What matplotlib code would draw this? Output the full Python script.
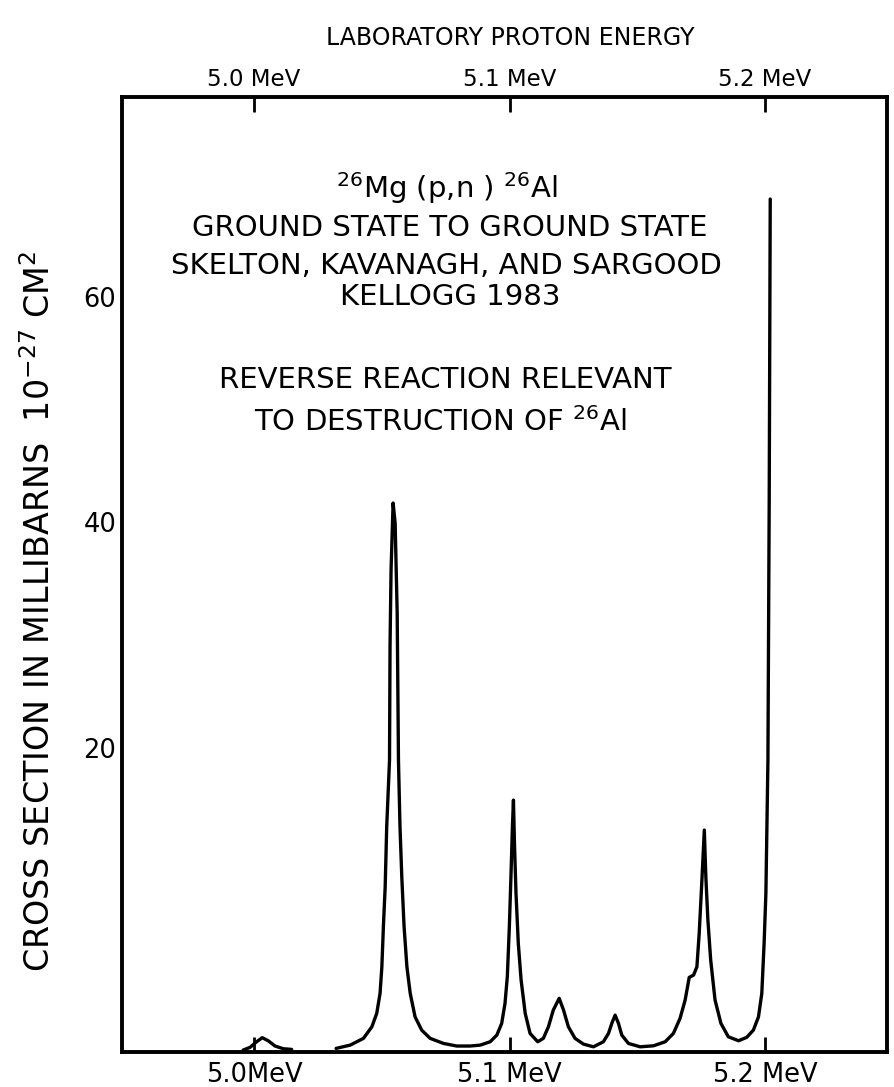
import matplotlib
matplotlib.use("Agg")
import matplotlib.pyplot as plt

# energies in MeV, cross sections in mb (read against the 20/40/60 labels)
bump_e = [4.9957, 4.9984, 5.0010, 5.0032, 5.0055, 5.0082, 5.0114, 5.0147]
bump_xs = [-6.83, -6.59, -6.09, -5.73, -6.00, -6.47, -6.71, -6.77]

curve_e = [5.0321, 5.0376, 5.0428, 5.0461, 5.0480, 5.0493, 5.0500, 5.0506,
           5.0513, 5.0519, 5.0530, 5.0532, 5.0536, 5.0544, 5.0552, 5.0560,
           5.0565, 5.0571, 5.0578, 5.0587, 5.0598, 5.0611, 5.0630, 5.0656,
           5.0689, 5.0741, 5.0793, 5.0845, 5.0885, 5.0924, 5.0950, 5.0969,
           5.0982, 5.0991, 5.0999, 5.1006, 5.1011, 5.1015, 5.1019, 5.1025,
           5.1034, 5.1045, 5.1061, 5.1080, 5.1110, 5.1132, 5.1152, 5.1171,
           5.1194, 5.1211, 5.1230, 5.1256, 5.1289, 5.1328, 5.1341, 5.1367,
           5.1387, 5.1400, 5.1413, 5.1426, 5.1439, 5.1465, 5.1511, 5.1563,
           5.1609, 5.1641, 5.1667, 5.1687, 5.1703, 5.1720, 5.1733, 5.1742,
           5.1752, 5.1762, 5.1768, 5.1776, 5.1787, 5.1804, 5.1827, 5.1856,
           5.1896, 5.1928, 5.1954, 5.1974, 5.1987, 5.1996, 5.2003, 5.2007,
           5.2011, 5.2016, 5.2020]
curve_xs = [-6.68, -6.39, -5.79, -4.76, -3.57, -1.80, 0.56, 4.11,
            7.65, 12.98, 18.89, 28.91, 35.74, 41.69, 39.91, 31.93,
            18.89, 12.98, 8.54, 4.11, 0.56, -1.80, -3.88, -5.06,
            -5.79, -6.24, -6.47, -6.47, -6.39, -6.09, -5.50, -4.46,
            -2.69, -0.33, 4.11, 9.14, 12.98, 15.34, 11.50, 7.07,
            2.63, -0.62, -3.57, -5.35, -6.09, -5.79, -4.76, -3.28,
            -2.24, -3.28, -4.76, -5.79, -6.30, -6.54, -6.39, -6.09,
            -5.35, -4.46, -3.73, -4.46, -5.50, -6.24, -6.54, -6.45,
            -6.09, -5.35, -4.02, -2.39, -0.38, -0.18, 0.56, 3.52,
            7.96, 12.68, 8.54, 4.70, 1.15, -2.39, -4.46, -5.65,
            -6.00, -5.70, -5.06, -3.88, -1.80, 2.63, 7.07, 12.98,
            18.89, 41.95, 68.65]

energy_ticks = [5.0, 5.1, 5.2]
top_labels = ['5.0 MeV', '5.1 MeV', '5.2 MeV']
bottom_labels = ['5.0MeV', '5.1 MeV', '5.2 MeV']
y_ticks = [20, 40, 60]

W, H = 894, 1087
fig = plt.figure(figsize=(W / 100, H / 100), dpi=100)
ax = fig.add_axes([122 / W, 1 - 1052 / H, (887 - 122) / W, (1052 - 97) / H])

ax.plot(bump_e, bump_xs, color='black', lw=2.4, solid_capstyle='round',
        solid_joinstyle='round')
ax.plot(curve_e, curve_xs, color='black', lw=2.4, solid_capstyle='round',
        solid_joinstyle='round')

ax.set_xlim(4.9483, 5.2477)
ax.set_ylim(-7.0, 77.7)

for s in ax.spines.values():
    s.set_linewidth(2.8)

ax.set_xticks(energy_ticks)
ax.set_xticklabels(bottom_labels, fontsize=18.5)
ax.tick_params(axis='x', direction='in', length=11, width=2, pad=7)

ax.set_yticks(y_ticks)
ax.set_yticklabels([str(v) for v in y_ticks], fontsize=18.5)
ax.tick_params(axis='y', length=0, pad=4)

top = ax.secondary_xaxis('top')
top.set_xticks(energy_ticks)
top.set_xticklabels(top_labels, fontsize=16.5)
top.tick_params(direction='in', length=11, width=2, pad=4)

def px(x, y):
    return x / W, 1 - y / H

fig.text(*px(510, 38), 'LABORATORY PROTON ENERGY', fontsize=17,
         ha='center', va='center')
fig.text(*px(40, 611), 'CROSS SECTION IN MILLIBARNS  10$^{-27}$ CM$^{2}$',
         fontsize=24, rotation=90, ha='center', va='center')

lines = [
    (447, 188, '$^{26}$Mg (p,n ) $^{26}$Al'),
    (450, 228, 'GROUND STATE TO GROUND STATE'),
    (446, 266, 'SKELTON, KAVANAGH, AND SARGOOD'),
    (450, 297, 'KELLOGG 1983'),
    (445, 380, 'REVERSE REACTION RELEVANT'),
    (440, 422, 'TO DESTRUCTION OF $^{26}$Al'),
]
for x, y, s in lines:
    fig.text(*px(x, y), s, fontsize=21, ha='center', va='center')

fig.savefig('out.png', dpi=100)
